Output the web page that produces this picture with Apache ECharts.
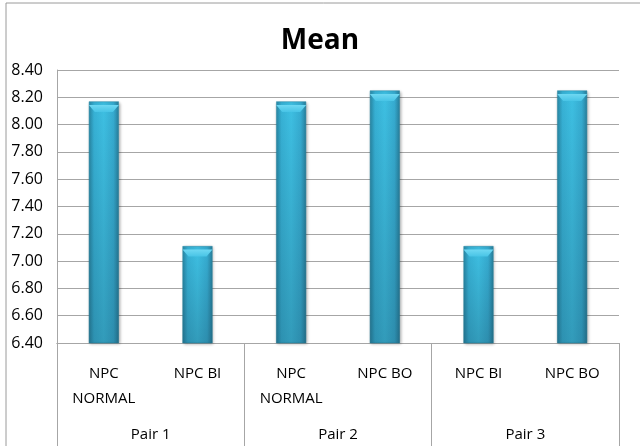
<!DOCTYPE html>
<html>
<head>
<meta charset="utf-8">
<script src="https://cdn.jsdelivr.net/npm/echarts@6/dist/echarts.min.js"></script>
<style>
  html, body { margin: 0; padding: 0; background: #fff; }
  #chart { width: 640px; height: 446px; }
</style>
</head>
<body>
<div id="chart"></div>
<script>
// Mean score per group, shown in three comparison pairs
const categories = ['NPC\nNORMAL', 'NPC BI', 'NPC\nNORMAL', 'NPC BO', 'NPC BI', 'NPC BO'];
const pairs = ['Pair 1', 'Pair 2', 'Pair 3'];
const means = [8.17, 7.11, 8.17, 8.25, 7.11, 8.25];

const FONT = '"Open Sans", "Noto Sans", sans-serif';
const GRID_COLOR = '#a6a6a6';

const chart = echarts.init(document.getElementById('chart'), null, { renderer: 'canvas' });

// cylinder-like horizontal shading of the columns
const sideShade = new echarts.graphic.LinearGradient(0, 0, 1, 0, [
  { offset: 0, color: '#2a8cab' },
  { offset: 0.18, color: '#37b2d6' },
  { offset: 0.5, color: '#3ec0e3' },
  { offset: 0.82, color: '#36acd1' },
  { offset: 1, color: '#287f9c' }
]);
// darkening towards the base of each column
const baseShade = new echarts.graphic.LinearGradient(0, 0, 0, 1, [
  { offset: 0, color: 'rgba(20,60,80,0)' },
  { offset: 1, color: 'rgba(20,60,80,0.28)' }
]);
// soft bevel highlight along the top edge
const capShade = new echarts.graphic.LinearGradient(0, 0, 0, 1, [
  { offset: 0, color: '#6fd8f2' },
  { offset: 1, color: '#48c4e6' }
]);

chart.setOption({
  animation: false,
  title: {
    text: 'Mean',
    left: 'center',
    top: 22,
    textStyle: { fontFamily: FONT, fontSize: 28, fontWeight: 'bold', color: '#000' }
  },
  graphic: [{
    type: 'rect',
    shape: { x: 6, y: 3, width: 640, height: 450 },
    style: { fill: 'none', stroke: '#9a9a9a', lineWidth: 1 },
    silent: true
  }],
  grid: { left: 57, right: 21, top: 70, bottom: 103 },
  xAxis: [{
    type: 'category',
    data: categories,
    axisLine: { lineStyle: { color: GRID_COLOR } },
    axisTick: { show: false },
    axisLabel: {
      interval: 0,
      margin: 18,
      fontFamily: FONT,
      fontSize: 15,
      lineHeight: 25,
      color: '#000'
    }
  }, {
    type: 'category',
    data: pairs,
    position: 'bottom',
    axisLine: { lineStyle: { color: GRID_COLOR } },
    axisTick: { show: true, length: 110, lineStyle: { color: GRID_COLOR } },
    axisLabel: {
      interval: 0,
      margin: 84,
      fontFamily: FONT,
      fontSize: 15,
      color: '#000'
    }
  }],
  yAxis: {
    type: 'value',
    min: 6.4,
    max: 8.4,
    interval: 0.2,
    axisLine: { show: true, lineStyle: { color: GRID_COLOR } },
    axisTick: { show: false },
    splitLine: { lineStyle: { color: GRID_COLOR } },
    axisLabel: {
      margin: 14,
      fontFamily: FONT,
      fontSize: 16,
      color: '#000',
      formatter: v => v.toFixed(2)
    }
  },
  series: [{
    type: 'bar',
    name: 'Mean',
    data: means,
    barWidth: 30,
    itemStyle: {
      color: sideShade,
      borderColor: '#2b88a4',
      borderWidth: 0.5,
      shadowColor: 'rgba(0,0,0,0.3)',
      shadowBlur: 3,
      shadowOffsetX: 1,
      shadowOffsetY: 1
    }
  }, {
    type: 'bar',
    name: 'shade',
    data: means,
    barWidth: 30,
    barGap: '-100%',
    silent: true,
    itemStyle: { color: baseShade }
  }, {
    // bevelled cap on top of each column
    type: 'pictorialBar',
    name: 'cap',
    data: means,
    silent: true,
    symbol: 'path://M0,0 L30,0 L24,7 L6,7 Z',
    symbolSize: [30, 7],
    symbolPosition: 'end',
    symbolOffset: [0, '50%'],
    itemStyle: { color: capShade },
    z: 3
  }]
});
</script>
</body>
</html>
